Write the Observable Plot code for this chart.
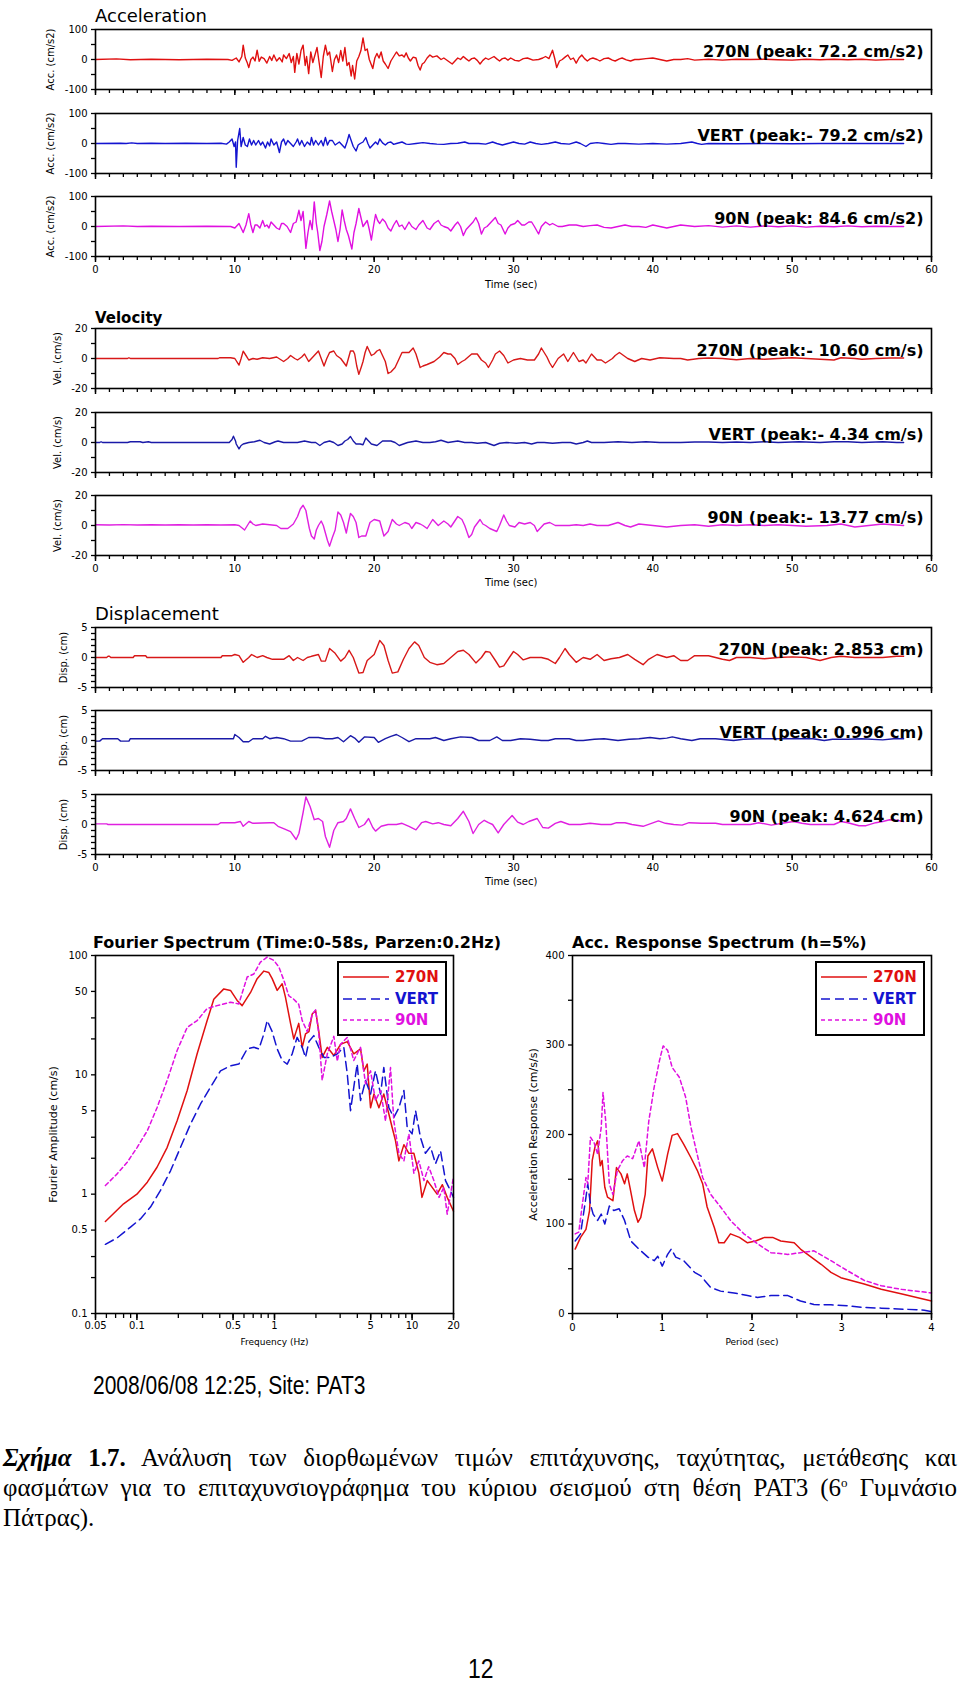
<!DOCTYPE html>
<html><head><meta charset="utf-8">
<script src="https://cdn.jsdelivr.net/npm/d3@7"></script>
<script src="https://cdn.jsdelivr.net/npm/@observablehq/plot@0.6"></script>
<style>
body{margin:0;background:#fff;}
#page{position:relative;width:960px;height:1683px;overflow:hidden;background:#fff;font-family:"DejaVu Sans",sans-serif;}
#page svg{overflow:visible;}
.cap{position:absolute;left:3px;width:954px;font-family:"Liberation Serif","Times New Roman",serif;font-size:25px;line-height:30px;color:#000;}
.j{text-align:justify;text-align-last:justify;white-space:nowrap;}
</style></head><body><div id="page"></div>
<script>
// ---------- DATA ----------
const components = ["270N", "VERT", "90N"];
const compColors = ["#e01010", "#1414d0", "#e010e0"];
const compColorsDark = ["#d81818", "#1a1aa8", "#e020e0"];
const timeMajor = [0, 10, 20, 30, 40, 50, 60];
const timeMinor = [0,1,2,3,4,5,6,7,8,9,10,11,12,13,14,15,16,17,18,19,20,21,22,23,24,25,26,27,28,29,30,31,32,33,34,35,36,37,38,39,40,41,42,43,44,45,46,47,48,49,50,51,52,53,54,55,56,57,58,59,60];
const accTicks = [-100, -50, 0, 50, 100], accLabels = [-100, 0, 100];
const velTicks = [-20, -10, 0, 10, 20], velLabels = [-20, 0, 20];
const dispTicks = [-5,-4,-3,-2,-1,0,1,2,3,4,5], dispLabels = [-5, 0, 5];
const peakAcc = ["270N (peak: 72.2 cm/s2)", "VERT (peak:- 79.2 cm/s2)", "90N (peak: 84.6 cm/s2)"];
const peakVel = ["270N (peak:- 10.60 cm/s)", "VERT (peak:- 4.34 cm/s)", "90N (peak:- 13.77 cm/s)"];
const peakDisp = ["270N (peak: 2.853 cm)", "VERT (peak: 0.996 cm)", "90N (peak: 4.624 cm)"];

const acc270N = [[0,0],[1.5,2],[2.5,-1],[4,1],[6,-1],[8,1],[9.5,0],[9.8,-3],[10.1,5],[10.3,-8],[10.5,10],[10.6,48],[10.75,5],[10.9,-12],[11.0,-27],[11.15,0],[11.3,8],[11.45,-5],[11.6,31],[11.75,-6],[11.9,8],[12.1,3],[12.3,-12],[12.5,10],[12.65,-3],[12.8,15],[13.0,-5],[13.2,6],[13.4,-8],[13.5,15],[13.7,3],[13.9,20],[14.05,-10],[14.2,10],[14.3,-43],[14.45,20],[14.6,-15],[14.75,30],[14.9,48],[15.05,-20],[15.15,10],[15.3,-47],[15.45,25],[15.6,-10],[15.75,15],[15.9,40],[16.05,-10],[16.2,-60],[16.35,10],[16.5,48],[16.65,15],[16.8,25],[17.0,-40],[17.15,0],[17.3,15],[17.45,-10],[17.6,30],[17.75,-5],[17.9,40],[18.05,-20],[18.2,-10],[18.35,-55],[18.45,-20],[18.6,-65],[18.75,-5],[18.9,10],[19.05,30],[19.2,72],[19.35,30],[19.5,35],[19.65,0],[19.9,-30],[20.05,5],[20.2,20],[20.35,5],[20.5,25],[20.65,-5],[20.8,-15],[21.0,-30],[21.2,-5],[21.4,10],[21.6,25],[21.8,12],[22.0,15],[22.15,8],[22.3,22],[22.45,5],[22.6,-5],[22.8,8],[23.0,5],[23.15,-20],[23.3,-35],[23.45,-15],[23.6,-10],[23.8,5],[24.0,15],[24.2,8],[24.5,12],[24.8,0],[25.0,5],[25.3,-5],[25.6,-15],[25.8,-5],[26.0,5],[26.2,0],[26.4,10],[26.6,2],[26.8,-5],[27.0,3],[27.2,5],[27.4,-3],[27.6,-15],[27.8,-3],[28.0,5],[28.2,0],[28.6,10],[28.8,2],[29.0,-5],[29.2,3],[29.4,5],[29.6,-2],[29.8,5],[30.1,-3],[30.4,-5],[30.7,3],[31.0,5],[31.4,-2],[31.8,0],[32.1,5],[32.3,10],[32.55,3],[32.8,31],[32.95,5],[33.1,-27],[33.3,-5],[33.5,0],[33.7,8],[33.9,15],[34.1,0],[34.3,5],[34.5,-12],[34.7,5],[34.9,15],[35.1,3],[35.3,-5],[35.5,2],[35.7,5],[36.0,0],[36.2,-5],[36.5,3],[36.8,5],[37.1,-2],[37.3,-5],[37.6,2],[37.8,5],[38.1,-1],[38.4,-5],[38.7,0],[39.0,0],[39.5,3],[40.0,5],[40.5,0],[41.0,-5],[41.5,0],[42.0,0],[42.5,3],[43.0,-2],[44,1],[45,-2],[46,1],[47,0],[48,1],[49,-1],[50,-2],[51,1],[52,-1],[53,1],[54,-1],[55,1],[56,-2],[57,0],[58,0]];
const accVERT = [[0,0],[1.8,1],[2.2,0],[2.6,2],[3,0],[4,1],[5,0],[6.5,1],[8,0],[9,1],[9.4,-2],[9.6,5],[9.8,15],[9.95,-10],[10.05,5],[10.1,-79],[10.2,10],[10.35,50],[10.45,-10],[10.6,20],[10.75,-5],[10.9,-10],[11.05,15],[11.2,-5],[11.35,10],[11.5,-5],[11.7,10],[11.85,-5],[12.0,5],[12.2,-15],[12.35,5],[12.5,-8],[12.6,15],[12.8,-5],[13.0,5],[13.2,-30],[13.35,5],[13.5,15],[13.65,-5],[13.8,10],[14.0,0],[14.2,-10],[14.4,5],[14.5,15],[14.65,-5],[14.8,10],[15.0,-10],[15.2,5],[15.4,-5],[15.5,20],[15.65,-5],[15.8,10],[16.0,-5],[16.2,10],[16.35,-8],[16.5,20],[16.65,-5],[16.8,10],[17.0,10],[17.2,-5],[17.5,5],[17.7,-5],[17.9,-15],[18.05,5],[18.2,30],[18.35,10],[18.5,-10],[18.7,-25],[18.85,-5],[19.0,0],[19.2,5],[19.4,20],[19.55,0],[19.7,-15],[19.9,-5],[20.1,5],[20.25,-3],[20.4,15],[20.6,2],[20.8,-5],[21.0,3],[21.2,5],[21.4,-3],[21.6,0],[22.0,5],[22.3,-2],[22.5,-3],[23.0,0],[23.5,3],[24.0,0],[24.5,-2],[25,-3],[25.5,0],[26,1],[26.5,5],[26.8,0],[27.5,0],[28.0,-2],[28.5,5],[28.8,0],[29.2,-5],[29.6,0],[30.0,5],[30.4,0],[30.8,-2],[31.2,5],[31.6,0],[32.0,-3],[32.5,0],[33,5],[33.4,0],[34,-2],[34.5,5],[34.8,0],[35.2,-10],[35.5,0],[36,3],[36.5,0],[37,-3],[37.5,0],[38,0],[39,-2],[40,0],[41,-2],[42,0],[42.8,5],[43.2,0],[43.5,-3],[44,0],[46,-1],[48,0],[50,-1],[52,0],[54,0],[56,0],[58,0]];
const acc90N = [[0,0],[2,2],[3,0],[4,1],[6,0],[8,1],[9.7,0],[10.0,-5],[10.3,10],[10.6,-20],[10.8,5],[11.0,43],[11.15,5],[11.3,-20],[11.45,5],[11.6,5],[11.8,-5],[12.0,20],[12.15,0],[12.3,5],[12.45,-5],[12.6,15],[12.8,5],[13.0,-5],[13.2,-10],[13.35,10],[13.5,10],[13.75,0],[14.0,-20],[14.2,10],[14.4,15],[14.6,54],[14.75,20],[14.9,50],[15.1,-73],[15.25,-20],[15.4,20],[15.55,-10],[15.7,82],[15.85,10],[15.95,-20],[16.1,-80],[16.25,-50],[16.4,0],[16.6,40],[16.8,85],[16.95,50],[17.1,20],[17.25,-10],[17.4,-50],[17.55,-10],[17.7,55],[17.85,20],[18.0,-10],[18.15,-30],[18.4,-75],[18.55,-20],[18.7,10],[18.9,60],[19.05,30],[19.2,0],[19.35,10],[19.5,20],[19.65,-10],[19.8,-45],[19.95,0],[20.1,40],[20.25,20],[20.4,10],[20.6,25],[20.8,15],[21.0,-5],[21.2,-15],[21.4,5],[21.6,20],[21.8,0],[22.0,5],[22.2,-10],[22.5,15],[22.7,0],[23.0,-10],[23.2,5],[23.5,20],[23.8,-5],[24.0,-10],[24.3,10],[24.6,20],[24.8,5],[25.0,0],[25.3,-5],[25.5,-15],[25.8,5],[26.0,15],[26.2,0],[26.4,-30],[26.6,-10],[26.9,5],[27.1,15],[27.3,30],[27.5,10],[27.7,-25],[27.9,-5],[28.1,0],[28.4,15],[28.7,30],[28.9,10],[29.1,5],[29.4,-25],[29.6,-5],[29.8,5],[30.1,10],[30.3,20],[30.6,5],[30.8,5],[31.1,15],[31.3,15],[31.5,0],[31.8,-25],[32.0,0],[32.3,15],[32.6,5],[32.8,10],[33.2,0],[33.5,0],[34,5],[34.5,5],[35,0],[35.5,3],[36,5],[36.5,-3],[37,-5],[37.5,0],[38,5],[38.5,0],[39,0],[39.5,-3],[40,5],[40.5,0],[41,-5],[41.5,0],[42,5],[43,0],[44,3],[45,-2],[46,2],[47,-2],[48,2],[49,-1],[50,2],[51,-2],[52,1],[53,-1],[54,2],[55,-1],[56,1],[57,0],[58,0]];

const vel270N = [[0,0],[2.3,0],[2.4,0.5],[2.5,0],[8.8,0],[8.9,0.5],[9.7,0.5],[10.0,0],[10.3,-4.4],[10.45,0],[10.6,4.9],[10.8,2],[11.0,-1],[11.3,0],[11.6,-0.5],[12.0,0.5],[12.5,0],[13.0,1],[13.5,-2],[13.8,0],[14.0,2],[14.3,0],[14.5,-1],[14.8,1],[15.0,3],[15.3,-2],[15.5,0],[15.7,2],[16.0,5],[16.2,0],[16.4,-5],[16.6,0],[16.8,4],[17.1,5],[17.3,2],[17.6,0],[18.0,-5],[18.15,0],[18.3,5],[18.5,5],[18.6,3],[18.75,-5],[18.9,-10.6],[19.1,-5],[19.2,-2],[19.35,4],[19.5,8],[19.7,4],[19.8,2],[20.0,3],[20.2,5],[20.4,6],[20.6,2],[20.8,-2],[21.0,-10],[21.2,-9],[21.5,-6],[21.8,0],[22.0,4],[22.5,4],[22.8,7],[23.0,3],[23.3,-6],[23.5,-5],[23.8,-4],[24.3,-2],[24.7,1],[25.0,4],[25.3,3],[25.5,3],[25.8,0],[26.0,-4],[26.3,-2],[26.5,-1],[27.0,3],[27.4,3],[27.7,-1],[28.0,-3],[28.2,-6],[28.5,-1],[28.7,3],[29.0,5],[29.3,2],[29.6,-3],[30.0,-1],[30.5,0],[31.0,-1],[31.5,-1],[31.8,3],[32.0,7],[32.2,4],[32.4,1],[32.6,-3],[32.8,-6],[33.0,-3],[33.2,0],[33.6,3],[33.9,-2],[34.1,1],[34.3,4],[34.5,1],[34.7,-2],[35.0,-1],[35.2,-3],[35.4,0],[35.6,3],[36.0,-1],[36.3,-1],[36.6,-3],[37.1,0],[37.3,2],[37.6,4],[37.9,2],[38.2,0],[38.7,-2],[39.2,0],[39.8,-1],[40.5,0.5],[41.5,0],[42,0],[42.5,-1],[43.3,0],[44,0.3],[45,0],[46,-0.8],[47,0],[48,-0.5],[49,0],[50,0.5],[51,0],[52,-0.5],[53,-1],[53.5,0.5],[54.5,0],[55,-0.5],[56,0],[57,0.3],[58,0.3]];
const velVERT = [[0,0],[0.3,0],[0.4,0.5],[0.5,0],[2.3,0],[2.5,0.5],[3.2,0.5],[3.4,0],[3.8,0.5],[4.0,0],[9.6,0],[9.8,2],[9.9,4.2],[10.05,1],[10.1,-1],[10.3,-4.3],[10.45,-2],[10.6,-1],[11.0,0],[11.4,0.5],[11.8,1.5],[12.1,0],[12.5,-1],[12.9,0.5],[13.1,1],[13.5,0],[14.0,0],[14.5,0],[15.0,1],[15.5,0],[15.8,0],[16.1,-2],[16.4,0],[16.8,1],[17.1,0],[17.4,-2],[17.7,-1],[17.9,1],[18.1,2],[18.3,4],[18.5,1],[18.7,-1],[19.0,-1],[19.2,-1.5],[19.4,3],[19.6,1],[19.8,-1],[20.2,-2],[20.6,1],[21.2,1],[21.5,0],[21.8,-2],[22.1,-1],[22.4,0],[23.0,1],[23.5,0],[24.0,0],[24.4,0.5],[24.8,1.5],[25.3,0],[26.0,1],[26.5,0],[27.0,0],[27.4,-0.5],[28.0,0],[28.3,-1],[28.6,-2],[29.0,-0.5],[29.5,0],[30.2,-0.5],[30.8,0],[31.3,-1],[31.7,0],[32.2,0],[32.8,-0.5],[33.5,0],[34.1,0],[34.5,-1],[35.0,0],[35.3,1],[35.6,0],[36.5,0],[37.5,0.5],[38.5,0],[39.5,0.5],[40.5,0],[42,0],[43,0.3],[44,0.3],[45,0],[46,0.3],[47,0],[48,0.5],[49,0],[50.5,0.5],[52,0],[53,0.5],[54,0.5],[55,0],[56.5,0.5],[57.5,0],[58,0]];
const vel90N = [[0,0.5],[1,0.3],[2,0.6],[3,0.3],[4,0.5],[5,0.3],[6,0.5],[7,0.3],[8,0.5],[9,0.3],[10,0.5],[10.3,0],[10.7,-3],[10.9,0],[11.1,3],[11.3,1],[11.5,0],[12,1],[12.5,0.5],[13.0,0],[13.3,-2],[13.8,-2],[14.2,1],[14.5,6],[14.7,11],[14.9,13.5],[15.1,10],[15.2,5],[15.35,-2],[15.5,-7],[15.7,-9],[15.85,-3],[16.0,0],[16.2,3],[16.35,0],[16.5,-5],[16.65,-10],[16.8,-13.77],[17.0,-8],[17.2,-3],[17.4,9],[17.6,7],[17.8,2],[18.0,-5],[18.15,2],[18.3,8],[18.5,6],[18.7,2],[18.9,-8],[19.1,-7],[19.4,-7],[19.7,2],[20.0,4],[20.4,3],[20.7,-7],[21.0,-4],[21.3,4],[21.6,1],[21.8,0],[22.2,2],[22.5,1],[22.7,-2],[23.0,2],[23.3,1],[23.5,0],[23.8,-2],[24.2,4],[24.4,2],[24.6,0],[25.0,3],[25.3,1],[25.5,-1],[26.0,6],[26.3,4],[26.5,0],[26.8,-8],[27.0,-6],[27.2,-1],[27.6,4],[27.8,1],[28.0,0],[28.3,-2],[28.8,-4],[29.0,0],[29.3,7],[29.5,3],[29.7,0],[30.1,-1],[30.4,2],[30.8,1],[31.2,2],[31.5,0],[31.7,-4],[32.0,-1],[32.2,1],[32.6,2],[33.0,0],[34,0],[34.5,0.5],[35,0],[35.5,1],[36,0],[36.8,0],[37.5,2],[38,0],[38.4,-1],[39,1],[40,0],[41,-1],[42,0],[43,0.5],[44,-0.5],[45,0.5],[46,0],[47,0.5],[48,0],[49,0.5],[50,0],[51,-0.5],[52.5,0],[53.5,1],[54.5,-1],[55.5,0],[56.5,1],[57.2,0.5],[58,0]];

const disp270N = [[0,0],[0.8,0],[0.9,0.2],[1.0,0.2],[1.1,0],[2.7,0],[2.8,0.3],[3.6,0.3],[3.7,0],[9.0,0],[9.1,0.3],[9.8,0.3],[10.0,0.5],[10.3,0.3],[10.6,-0.8],[11.0,0],[11.2,0.5],[11.6,0],[12.0,0.3],[12.3,0],[12.7,-0.3],[13.5,-0.3],[13.9,0.3],[14.2,-0.5],[14.5,0],[14.9,-0.5],[15.2,0],[15.5,0.2],[16.0,0.5],[16.2,-0.6],[16.5,-0.6],[16.8,1.5],[17.2,0.7],[17.6,-0.6],[17.9,0],[18.2,1.2],[18.5,0],[18.9,-2.6],[19.2,-2.5],[19.5,-0.5],[20.0,0.5],[20.4,2.85],[20.7,2],[21.0,-0.5],[21.3,-2.6],[21.7,-2.4],[22.1,-0.3],[22.5,1.5],[22.9,2.6],[23.2,2],[23.6,0],[24.0,-0.8],[24.5,-1.2],[25.0,-1],[25.5,0],[26.0,1],[26.4,1.2],[26.8,0.5],[27.3,-0.9],[27.7,0],[28.0,1],[28.3,0.9],[28.7,-0.5],[29.0,-1.6],[29.3,-1.4],[29.7,0],[30.0,1],[30.3,0.5],[30.7,-0.4],[31.2,0],[32.0,0],[32.5,-0.3],[33.0,-1],[33.3,0],[33.7,1.5],[34.0,0.5],[34.5,-0.8],[35.0,0],[35.5,-0.3],[36.0,0.5],[36.5,-0.5],[37.0,-0.2],[37.6,0],[38.2,0.5],[38.7,-0.3],[39.3,-1.2],[39.7,-0.3],[40.3,0.5],[41.0,0],[41.5,0.3],[42.0,-0.5],[42.5,-0.5],[43.0,0.3],[44.0,0.3],[45.0,-0.3],[45.5,-0.5],[46.0,0],[47.0,0],[48.0,-0.2],[49.0,0],[50.0,0.1],[51,0],[52.0,-0.5],[52.8,0],[53.5,0.2],[54.5,0],[55.5,0],[56.5,0],[57.5,0.2],[58,0.2]];
const dispVERT = [[0,-0.1],[0.3,-0.1],[0.5,0.3],[1.6,0.3],[1.8,-0.1],[2.4,-0.1],[2.5,0.3],[9.9,0.3],[10.0,1.0],[10.3,0.5],[10.6,-0.2],[11.0,-0.2],[11.3,0.3],[12.0,0.3],[12.2,0.7],[12.5,0.3],[13.0,0.5],[13.5,0.3],[14.0,-0.1],[14.8,-0.1],[15.3,0.5],[16.0,0.5],[16.5,0.3],[17.0,0.3],[17.4,0.5],[17.8,-0.2],[18.3,0.8],[18.6,0.4],[18.9,-0.3],[19.3,0.6],[20,0.5],[20.3,-0.3],[20.8,0.3],[21.2,0.7],[21.6,1.0],[22.0,0.5],[22.5,-0.2],[23.0,0.3],[24,0.3],[24.4,0.5],[25,0],[25.5,0.3],[26.2,0.6],[27,0.5],[27.5,0],[28,0],[28.3,0],[28.8,0.6],[29.2,0],[29.8,0],[30.5,0.3],[31.2,0.2],[32,0],[32.5,0],[33,0.3],[34.0,0.3],[34.5,0],[35,0],[35.8,0.2],[36.5,0.3],[37.5,0],[38.3,0.2],[39,0.3],[39.8,0.5],[40.5,0.3],[41,0.4],[41.4,0.6],[42,0.3],[42.8,0],[43.4,0.3],[44.5,0.3],[45.8,0],[46.5,0.2],[47.5,0.3],[48.3,0.3],[49.4,0.3],[50.5,0.3],[51.5,0.3],[52.3,0],[52.9,0.2],[54,0.2],[55,0.3],[56.5,0.1],[57.3,0.3],[58,0.3]];
const disp90N = [[0,0.1],[0.8,0.1],[0.9,0],[8.8,0],[9.0,0.3],[10,0.3],[10.4,0.5],[10.6,-0.3],[11.0,0.5],[11.3,0.2],[12.5,0.3],[12.8,0.3],[13.1,-0.3],[13.5,-0.7],[14.0,-1.2],[14.4,-2.5],[14.6,-1.5],[14.9,2],[15.1,4.6],[15.4,3],[15.7,0.8],[16.0,1],[16.3,0.5],[16.5,-2],[16.8,-3.8],[17.1,-1],[17.4,0.3],[17.8,0.5],[18.0,1],[18.3,2.6],[18.6,1],[18.9,-0.5],[19.3,0],[19.6,1],[19.9,-0.5],[20.1,-1.1],[20.5,-0.3],[21,0],[21.6,0],[22.0,0.2],[22.5,-0.3],[23.0,-0.9],[23.4,0.3],[23.7,0.5],[24.2,0.1],[24.6,0.3],[25.0,0],[25.5,-0.2],[26.0,1.0],[26.4,2.2],[26.8,0.5],[27.1,-1.5],[27.5,0],[27.9,0.7],[28.2,0.3],[28.5,0],[28.9,-1.4],[29.3,0],[29.9,1.5],[30.3,0.4],[30.7,0],[31.1,0.5],[31.7,1.0],[32.1,-0.5],[32.5,-0.6],[33.0,0.2],[33.4,0.5],[34.0,0],[34.8,0],[35.5,0.2],[36.3,0],[37,0],[37.4,0.3],[38.0,0.3],[38.5,0],[39.3,-0.3],[39.8,0.1],[40.4,0.6],[40.9,0.2],[41.5,0],[42.1,-0.1],[42.6,0.3],[43.5,0.2],[44.5,0.2],[45,0],[46.0,0],[47,0],[47.6,0.3],[48.5,-0.1],[49.5,0.3],[50.1,0.5],[50.7,0.2],[51.3,0],[52,0],[53,0],[53.5,0.5],[54,0.3],[54.8,-0.2],[55.3,-0.2],[56,0.3],[56.5,0.5],[57,0.8],[57.5,0.7],[58,0.5]];

// Fourier spectra: [frequency Hz, amplitude cm/s]
const fourier270N = [[0.059,0.59],[0.080,0.83],[0.100,1.0],[0.119,1.26],[0.140,1.68],[0.166,2.47],[0.196,4.13],[0.232,7.4],[0.274,15],[0.324,28.5],[0.362,43],[0.428,52.5],[0.479,51],[0.535,42],[0.582,38],[0.67,49],[0.748,64],[0.837,74],[0.91,72],[0.962,64],[1.046,51],[1.137,58],[1.20,45],[1.308,27],[1.38,20],[1.50,27],[1.59,17],[1.68,22],[1.78,23],[1.88,32.4],[1.99,34.6],[2.10,23],[2.22,14],[2.42,17],[2.70,14.5],[3.02,18],[3.38,19],[3.77,15],[4.22,16.5],[4.46,10.8],[4.72,12.3],[4.99,5.3],[5.28,6.9],[5.74,5.3],[6.23,6.9],[6.78,4.7],[7.17,3.6],[7.58,2.8],[8.02,1.9],[8.72,2.6],[9.48,2.2],[10.3,2.2],[11.2,1.5],[11.8,0.94],[12.9,1.3],[14.0,1.14],[15.2,1.0],[16.6,1.2],[18.0,0.94],[20,0.72]];
const fourierVERT = [[0.059,0.38],[0.0718,0.43],[0.0898,0.53],[0.106,0.62],[0.1255,0.78],[0.148,1.07],[0.1755,1.57],[0.2075,2.47],[0.245,3.86],[0.29,5.7],[0.343,7.9],[0.405,10.8],[0.479,11.9],[0.55,12.3],[0.633,16.5],[0.708,17],[0.77,16.5],[0.837,22],[0.885,28.5],[0.962,23],[1.046,16.5],[1.137,13.2],[1.237,12.3],[1.345,15],[1.46,20.6],[1.59,17],[1.68,14],[1.78,19],[1.93,21.3],[2.10,17],[2.29,14],[2.55,14],[2.86,15],[3.19,17],[3.38,10.2],[3.57,5],[3.77,7.9],[3.99,12.3],[4.22,6.1],[4.59,9],[4.99,6.9],[5.42,10.8],[5.9,6.9],[6.23,11.5],[6.78,5.3],[7.37,4.4],[8.02,5.3],[8.72,7.4],[9.22,3.6],[10.0,3.2],[10.6,5],[11.5,3.0],[12.5,2.2],[13.6,2.5],[14.8,1.8],[16.1,2.3],[17.5,1.3],[18.5,1.14],[20,0.94]];
const fourier90N = [[0.059,1.18],[0.0718,1.48],[0.085,1.85],[0.1005,2.47],[0.119,3.4],[0.140,5.3],[0.166,9],[0.196,16],[0.232,25],[0.274,28.5],[0.324,36],[0.383,38],[0.479,40.6],[0.55,39.3],[0.633,66],[0.708,70],[0.79,88],[0.885,97],[0.989,91],[1.076,80],[1.17,62],[1.27,46],[1.38,43],[1.50,39],[1.59,28.5],[1.73,23],[1.88,32],[1.99,35],[2.10,22],[2.22,9],[2.42,15],[2.70,21],[2.86,13],[3.02,18],[3.38,20.6],[3.77,13.2],[4.22,17],[4.59,8.4],[4.99,10.8],[5.42,6.1],[5.9,7.4],[6.41,4.1],[6.97,11.5],[7.37,4.1],[8.02,2.2],[8.72,1.9],[9.48,3.2],[10.3,1.5],[11.2,1.9],[12.2,1.3],[13.2,1.7],[14.4,1.3],[15.7,0.94],[17.0,1.14],[18.0,0.68],[20,1.4]];
const freqMinor = [0.05,0.06,0.07,0.08,0.09,0.1,0.2,0.3,0.4,0.5,0.6,0.7,0.8,0.9,1,2,3,4,5,6,7,8,9,10,20];
const freqLabels = [0.05, 0.1, 0.5, 1, 5, 10, 20];
const ampMinor = [0.1,0.2,0.3,0.5,1,2,3,5,10,20,30,50,100];
const ampLabels = [0.1, 0.5, 1, 5, 10, 50, 100];

// Acceleration response spectra (h=5%): [period s, Sa cm/s/s]
const resp270N = [[0.03,72],[0.09,85],[0.15,94],[0.19,115],[0.22,171],[0.25,186],[0.28,193],[0.31,165],[0.33,171],[0.36,141],[0.39,130],[0.45,126],[0.49,163],[0.54,156],[0.58,145],[0.61,156],[0.64,141],[0.69,115],[0.73,102],[0.76,107],[0.81,133],[0.84,176],[0.89,184],[0.95,163],[1.0,148],[1.06,178],[1.11,199],[1.17,201],[1.24,189],[1.32,174],[1.39,160],[1.45,145],[1.5,119],[1.58,96],[1.63,79],[1.69,79],[1.76,89],[1.86,85],[1.95,79],[2.04,81],[2.14,85],[2.23,85],[2.32,81],[2.47,79],[2.54,72],[2.66,63],[2.77,55],[2.88,46],[2.99,40],[3.25,33],[3.44,27],[3.66,22],[4.0,14]];
const respVERT = [[0.03,81],[0.09,89],[0.15,130],[0.17,145],[0.20,122],[0.23,111],[0.28,104],[0.32,111],[0.36,100],[0.41,120],[0.46,115],[0.52,117],[0.58,104],[0.65,81],[0.74,72],[0.84,63],[0.91,59],[0.95,64],[1.0,53],[1.06,66],[1.10,72],[1.15,63],[1.24,59],[1.36,46],[1.43,42],[1.54,29],[1.65,25],[1.80,23],[1.95,20],[2.06,18],[2.21,20],[2.40,20],[2.54,14],[2.69,10],[2.88,9.7],[3.06,8.6],[3.25,6.7],[3.44,6],[3.70,4.8],[3.92,3.7],[4.0,2.2]];
const resp90N = [[0.03,89],[0.07,91],[0.11,122],[0.15,152],[0.17,145],[0.20,197],[0.24,191],[0.28,178],[0.32,208],[0.34,247],[0.37,215],[0.41,145],[0.45,133],[0.50,160],[0.56,171],[0.61,176],[0.67,173],[0.74,193],[0.80,163],[0.85,215],[0.91,253],[0.97,283],[1.01,299],[1.06,294],[1.11,275],[1.19,264],[1.26,242],[1.32,208],[1.37,186],[1.45,152],[1.54,133],[1.65,119],[1.76,104],[1.91,89],[2.06,78],[2.21,68],[2.40,66],[2.54,68],[2.69,70],[2.88,59],[3.06,48],[3.25,37],[3.44,31],[3.66,27],[4.0,23]];
const periodMinor = [0,0.5,1,1.5,2,2.5,3,3.5,4];
const periodLabels = [0,1,2,3,4];
const saMinor = [0,50,100,150,200,250,300,350,400];
const saLabels = [0,100,200,300,400];
const dashes = [null, "9,5", "4,3"];

// ---------- LAYOUT ----------
const page = document.getElementById("page");
function place(el, left, top) {
  el.style.position = "absolute"; el.style.left = left + "px"; el.style.top = top + "px";
  page.appendChild(el); return el;
}
function txt(text, left, top, css) {
  const d = document.createElement("div");
  d.textContent = text;
  d.style.cssText = "position:absolute;white-space:nowrap;line-height:1;left:" + left + "px;top:" + top + "px;" + css;
  page.appendChild(d); return d;
}
const axisStyle = {fontFamily: "DejaVu Sans", fontSize: "10px", color: "black", background: "transparent", overflow: "visible"};

function timePanel(series, color, ticks, labels, yLabel, yLabelX, peak, top, showX) {
  const mt = 10, mb = showX ? 30 : 10, ph = 60;
  const dom = [ticks[0], ticks[ticks.length - 1]];
  const svg = Plot.plot({
    width: 960, height: ph + mt + mb,
    marginLeft: 95, marginRight: 29, marginTop: mt, marginBottom: mb,
    style: axisStyle,
    x: {domain: [0, 60]}, y: {domain: dom},
    marks: [
      Plot.axisX(timeMinor, {tickSize: 4, tickFormat: () => "", label: null, strokeWidth: 1.3}),
      Plot.axisX(timeMajor, {tickSize: 6, tickPadding: 3, tickFormat: showX ? (d => String(d)) : (() => ""), label: null, strokeWidth: 1.5}),
      Plot.axisY(ticks, {tickSize: 4, tickPadding: 4, tickFormat: d => labels.includes(d) ? String(d) : "", label: null, strokeWidth: 1.3}),
      Plot.line(series, {x: d => d[0], y: d => d[1], stroke: color, strokeWidth: 1.4}),
      Plot.frame({stroke: "black", strokeWidth: 1.6}),
      Plot.text([yLabel], {frameAnchor: "left", dx: -(95 - yLabelX), rotate: -90, textAnchor: "middle", fontSize: 10}),
      Plot.text([peak], {frameAnchor: "top-right", dx: -8, dy: 16, textAnchor: "end", fontSize: 16, fontWeight: "bold", fontFamily: "DejaVu Sans"})
    ]
  });
  place(svg, 0, top - mt);
}

// Acceleration
txt("Acceleration", 95, 7, "font-family:'DejaVu Sans';font-size:18px;");
const accSeries = [acc270N, accVERT, acc90N];
const accTops = [29, 113, 196];
accSeries.forEach((s, i) => timePanel(s, compColors[i], accTicks, accLabels, "Acc. (cm/s2)", 50, peakAcc[i], accTops[i], i === 2));
txt("Time (sec)", 485, 280, "font-size:10px;");

// Velocity
txt("Velocity", 95, 311, "font-family:'DejaVu Sans';font-weight:bold;font-size:15px;");
const velSeries = [vel270N, velVERT, vel90N];
const velTops = [328, 412, 495];
velSeries.forEach((s, i) => timePanel(s, compColorsDark[i], velTicks, velLabels, "Vel. (cm/s)", 57, peakVel[i], velTops[i], i === 2));
txt("Time (sec)", 485, 578, "font-size:10px;");

// Displacement
txt("Displacement", 95, 605, "font-family:'DejaVu Sans';font-size:18px;");
const dispSeries = [disp270N, dispVERT, disp90N];
const dispTops = [627, 710, 794];
dispSeries.forEach((s, i) => timePanel(s, compColorsDark[i], dispTicks, dispLabels, "Disp. (cm)", 63, peakDisp[i], dispTops[i], i === 2));
txt("Time (sec)", 485, 877, "font-size:10px;");

// ---------- SPECTRA ----------
function legend(left, top) {
  const ns = "http://www.w3.org/2000/svg";
  const svg = document.createElementNS(ns, "svg");
  svg.setAttribute("width", 110); svg.setAttribute("height", 75);
  let html = '<rect x="1" y="1" width="108" height="73" fill="white" stroke="black" stroke-width="2"/>';
  const rows = [16, 38, 59];
  components.forEach((c, i) => {
    html += `<line x1="6" x2="52" y1="${rows[i]}" y2="${rows[i]}" stroke="${compColors[i]}" stroke-width="1.5" ${dashes[i] ? `stroke-dasharray="${dashes[i]}"` : ""}/>`;
    html += `<text x="58" y="${rows[i]}" dy="0.36em" fill="${compColors[i]}" font-family="DejaVu Sans" font-weight="bold" font-size="15">${c}</text>`;
  });
  svg.innerHTML = html;
  place(svg, left, top);
}

const fourierSeries = [fourier270N, fourierVERT, fourier90N];
const fourier = Plot.plot({
  width: 480, height: 5 + 358 + 42,
  marginLeft: 95, marginRight: 27, marginTop: 5, marginBottom: 42,
  style: axisStyle,
  x: {type: "log", domain: [0.05, 20]},
  y: {type: "log", domain: [0.1, 100]},
  marks: [
    Plot.axisX(freqMinor, {tickSize: 5, fill: "none", label: null, strokeWidth: 1.3}),
    Plot.axisX(freqLabels, {tickSize: 7, fill: "none", label: null, strokeWidth: 1.5}),
    Plot.axisY(ampMinor, {tickSize: 4, fill: "none", label: null, strokeWidth: 1.3}),
    Plot.text(freqLabels, {x: d => d, frameAnchor: "bottom", dy: 15, text: d => String(d), fontSize: 10}),
    Plot.text(ampLabels, {y: d => d, frameAnchor: "left", dx: -8, textAnchor: "end", text: d => String(d), fontSize: 10}),
    ...fourierSeries.map((s, i) => Plot.line(s, {x: d => d[0], y: d => d[1], stroke: compColors[i], strokeWidth: 1.5, strokeDasharray: dashes[i]})),
    Plot.frame({stroke: "black", strokeWidth: 1.6}),
    Plot.text(["Fourier Amplitude (cm/s)"], {frameAnchor: "left", dx: -42, rotate: -90, textAnchor: "middle", fontSize: 11}),
    Plot.text(["Frequency (Hz)"], {frameAnchor: "bottom", dy: 31, fontSize: 9})
  ]
});
place(fourier, 0, 950);
txt("Fourier Spectrum (Time:0-58s, Parzen:0.2Hz)", 93, 935, "font-family:'DejaVu Sans';font-weight:bold;font-size:16px;");
legend(337, 961);

const respSeries = [resp270N, respVERT, resp90N];
const resp = Plot.plot({
  width: 480, height: 5 + 358 + 42,
  marginLeft: 92, marginRight: 29, marginTop: 5, marginBottom: 42,
  style: axisStyle,
  x: {domain: [0, 4]},
  y: {domain: [0, 400]},
  marks: [
    Plot.axisX(periodMinor, {tickSize: 5, tickFormat: () => "", label: null, strokeWidth: 1.3}),
    Plot.axisX(periodLabels, {tickSize: 7, tickPadding: 3, tickFormat: d => String(d), label: null, strokeWidth: 1.5}),
    Plot.axisY(saMinor, {tickSize: 4, tickPadding: 4, tickFormat: d => saLabels.includes(d) ? String(d) : "", label: null, strokeWidth: 1.3}),
    ...respSeries.map((s, i) => Plot.line(s, {x: d => d[0], y: d => d[1], stroke: compColors[i], strokeWidth: 1.5, strokeDasharray: dashes[i]})),
    Plot.frame({stroke: "black", strokeWidth: 1.6}),
    Plot.text(["Acceleration Response (cm/s/s)"], {frameAnchor: "left", dx: -39, rotate: -90, textAnchor: "middle", fontSize: 11}),
    Plot.text(["Period (sec)"], {frameAnchor: "bottom", dy: 31, fontSize: 9})
  ]
});
place(resp, 480, 950);
txt("Acc. Response Spectrum (h=5%)", 572, 935, "font-family:'DejaVu Sans';font-weight:bold;font-size:16px;");
legend(815, 961);

// ---------- CAPTIONS ----------
txt("2008/06/08 12:25, Site: PAT3", 93, 1373, "font-family:'Liberation Sans',sans-serif;font-size:25px;transform:scaleX(0.84);transform-origin:0 0;");

const cap = document.createElement("div");
cap.className = "cap";
cap.style.top = "1443px";
cap.innerHTML =
  '<div class="j"><b><i>Σχήμα</i> 1.7.</b> Ανάλυση των διορθωμένων τιμών επιτάχυνσης, ταχύτητας, μετάθεσης και</div>' +
  '<div class="j">φασμάτων για το επιταχυνσιογράφημα του κύριου σεισμού στη θέση PAT3 (6<sup style="font-size:13px;line-height:0">ο</sup> Γυμνάσιο</div>' +
  '<div>Πάτρας).</div>';
page.appendChild(cap);

txt("12", 468, 1656, "font-family:'Liberation Sans',sans-serif;font-size:27px;transform:scaleX(0.85);transform-origin:0 0;");
</script></body></html>
